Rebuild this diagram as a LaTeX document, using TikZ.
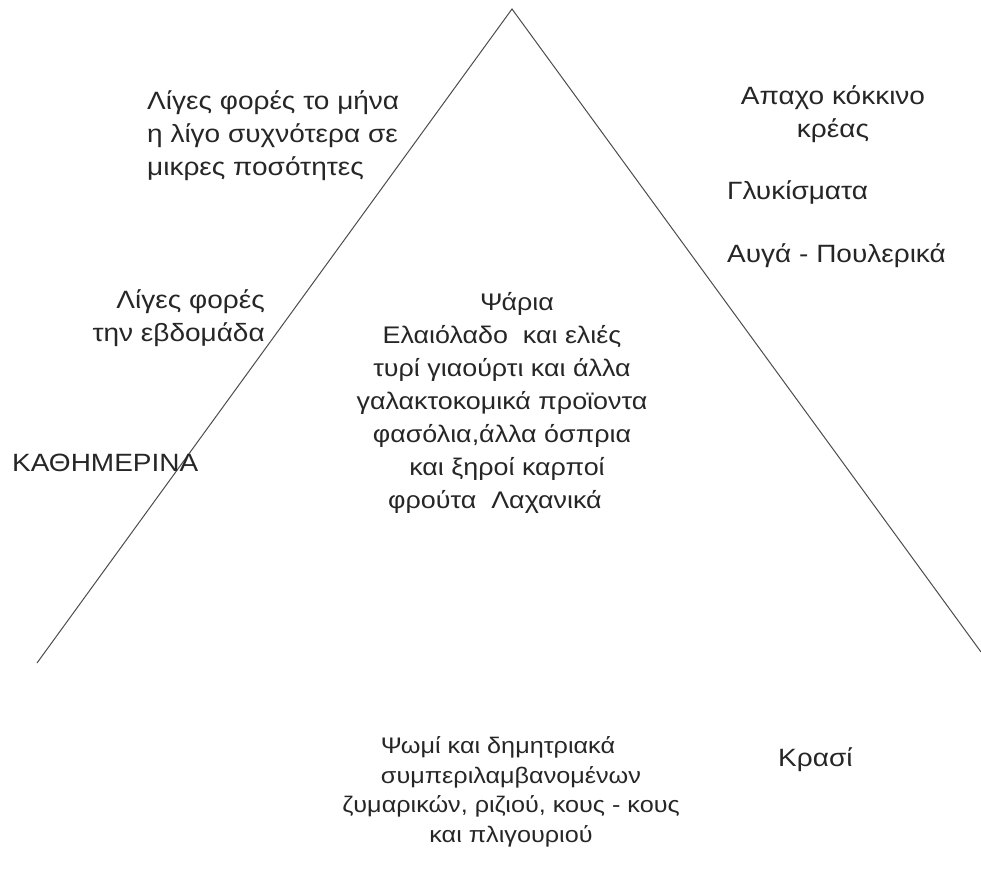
\documentclass[tikz,border=0pt]{standalone}
\usepackage{fontspec}
\setmainfont{Liberation Sans}[FakeStretch=1.12]
\begin{document}
\begin{tikzpicture}[x=1pt,y=-1pt,
  lbl/.style={inner sep=0pt, text=black!85, font=\fontsize{25}{33}\selectfont},
  edge/.style={draw=black!70, line width=1pt}]
\useasboundingbox (0,0) rectangle (981,869);
\coordinate (apex) at (512,9);
\coordinate (bl) at (37,663);
\coordinate (br) at (981,652);
\draw[edge] (bl) -- (apex) -- (br);

\node[lbl, anchor=west, align=left] (month) at (147,136)
  {Λίγες φορές το μήνα\\η λίγο συχνότερα σε\\μικρες ποσότητες};
\node[lbl, anchor=east, align=right] (week) at (265,318)
  {Λίγες φορές\\την εβδομάδα};
\node[lbl, anchor=west] (daily) at (12,463) {ΚΑΘΗΜΕΡΙΝΑ};
\node[lbl, align=center, font=\fontsize{24}{33}\selectfont] (mid) at (502,403)
  {\hspace*{30pt}Ψάρια\\Ελαιόλαδο\ \ και ελιές\\τυρί γιαούρτι και άλλα\\γαλακτοκομικά προϊοντα\\φασόλια,άλλα όσπρια\\\hspace*{10pt}και ξηροί καρποί\\φρούτα\ \ Λαχανικά\hspace*{14pt}};
\node[lbl, align=center] (meat) at (833,114) {Απαχο κόκκινο\\κρέας};
\node[lbl, anchor=west] (sweet) at (727,192) {Γλυκίσματα};
\node[lbl, anchor=west] (eggs) at (727,256) {Αυγά - Πουλερικά};
\node[lbl, anchor=west] (wine) at (778,760) {Κρασί};
\node[lbl, align=center, font=\fontsize{22.5}{29.5}\selectfont] (bread) at (511,792)
  {Ψωμί και δημητριακά\hspace*{26pt}\\συμπεριλαμβανομένων\hspace*{10pt}\\ζυμαρικών, ριζιού, κους - κους\\και πλιγουριού};
\end{tikzpicture}
\end{document}
